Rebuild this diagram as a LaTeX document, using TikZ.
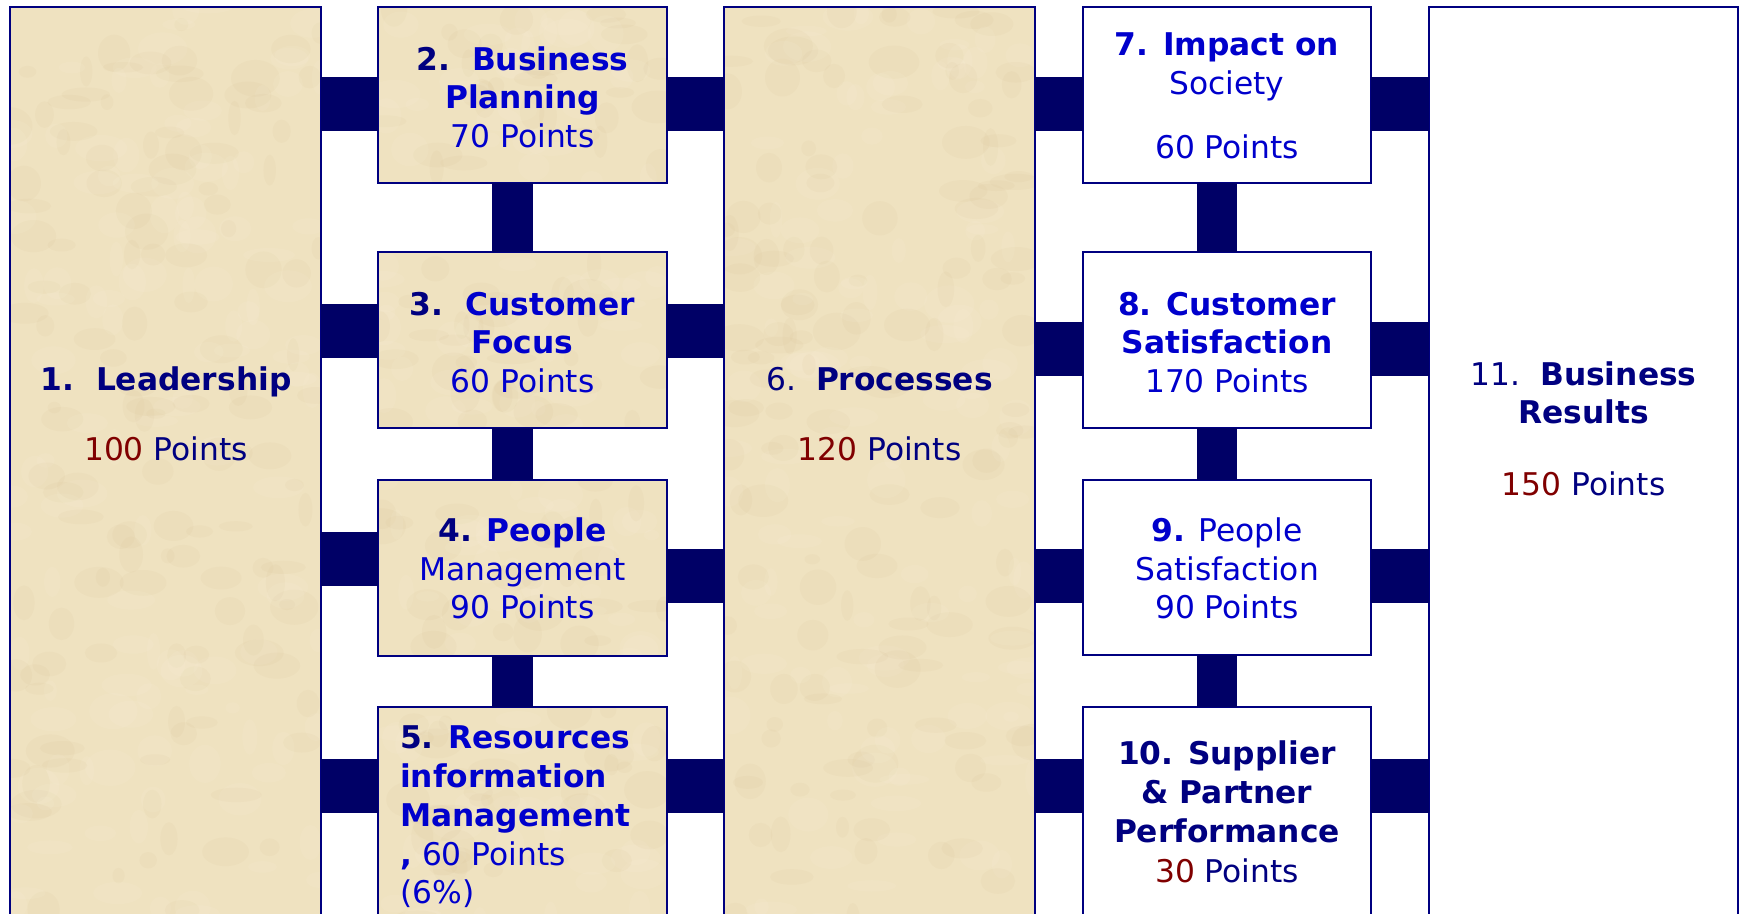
\documentclass[tikz,border=0pt]{standalone}
\usepackage{fontspec}
\setmainfont{DejaVu Sans}
\usetikzlibrary{calc}
\definecolor{barc}{RGB}{0,0,102}
\definecolor{bord}{RGB}{0,0,128}
\definecolor{tnavy}{RGB}{0,0,128}
\definecolor{tblue}{RGB}{0,0,204}
\definecolor{tred}{RGB}{128,0,0}
\definecolor{parch}{RGB}{239,226,192}
\definecolor{parchdk}{RGB}{214,190,146}
\definecolor{parchlt}{RGB}{252,245,226}
\newcommand\fsz{\fontsize{31.3}{39}\selectfont}
\newcommand\parchtex[3]{%
  \foreach \k in {1,...,#1}{%
    \pgfmathsetmacro\rx{rnd}%
    \pgfmathsetmacro\ry{rnd}%
    \pgfmathsetmacro\ra{6+20*rnd}%
    \pgfmathsetmacro\rb{5+14*rnd}%
    \pgfmathsetmacro\rc{rnd}%
    \ifdim\rc pt<0.5pt \def\bc{parchdk}\else\def\bc{parchlt}\fi
    \fill[\bc, opacity=0.10] ($(path picture bounding box.north west)+({\rx*#2 pt},{-\ry*#3 pt})$) ellipse [x radius=\ra pt, y radius=\rb pt];
  }%
}
\tikzset{
  boxbase/.style={rectangle, draw=bord, line width=2pt, inner sep=0pt, outer sep=0pt, anchor=north west},
  tanbox/.style n args={3}{boxbase, fill=parch, minimum width=#2pt, minimum height=#3pt, path picture={\parchtex{#1}{#2}{#3}}},
  whitebox/.style n args={2}{boxbase, fill=white, minimum width=#1pt, minimum height=#2pt},
  bar/.style={fill=barc},
  tx/.style={anchor=base, inner sep=0pt, font=\fsz, text=tnavy},
  txl/.style={anchor=base west, inner sep=0pt, font=\fsz, text=tblue},
}
\begin{document}
\begin{tikzpicture}[x=1pt,y=-1pt]
\pgfmathsetseed{7}
\useasboundingbox (0,0) rectangle (1739,913);
\fill[white] (0,0) rectangle (1739,913);
\clip (0,0) rectangle (1739,913);
% boxes
\node[tanbox={260}{311}{913}] (b1) at (10,7) {};
\node[tanbox={60}{289}{176}] (b2) at (378,7) {};
\node[tanbox={60}{289}{176}] (b3) at (378,252) {};
\node[tanbox={60}{289}{176}] (b4) at (378,480) {};
\node[tanbox={70}{289}{220}] (b5) at (378,707) {};
\node[tanbox={260}{311}{913}] (b6) at (724,7) {};
\node[whitebox={288}{176}] (b7) at (1083,7) {};
\node[whitebox={288}{176}] (b8) at (1083,252) {};
\node[whitebox={288}{175}] (b9) at (1083,480) {};
\node[whitebox={288}{220}] (b10) at (1083,707) {};
\node[whitebox={309}{913}] (b11) at (1429,7) {};
% horizontal bars
\fill[bar] (b1.east |- 0,77) rectangle (b2.west |- 0,131);
\fill[bar] (b2.east |- 0,77) rectangle (b6.west |- 0,131);
\fill[bar] (b6.east |- 0,77) rectangle (b7.west |- 0,131);
\fill[bar] (b7.east |- 0,77) rectangle (b11.west |- 0,131);
\fill[bar] (b1.east |- 0,304) rectangle (b3.west |- 0,358);
\fill[bar] (b3.east |- 0,304) rectangle (b6.west |- 0,358);
\fill[bar] (b6.east |- 0,322) rectangle (b8.west |- 0,376);
\fill[bar] (b8.east |- 0,322) rectangle (b11.west |- 0,376);
\fill[bar] (b1.east |- 0,532) rectangle (b4.west |- 0,586);
\fill[bar] (b4.east |- 0,549) rectangle (b6.west |- 0,603);
\fill[bar] (b6.east |- 0,549) rectangle (b9.west |- 0,603);
\fill[bar] (b9.east |- 0,549) rectangle (b11.west |- 0,603);
\fill[bar] (b1.east |- 0,759) rectangle (b5.west |- 0,813);
\fill[bar] (b5.east |- 0,759) rectangle (b6.west |- 0,813);
\fill[bar] (b6.east |- 0,759) rectangle (b10.west |- 0,813);
\fill[bar] (b10.east |- 0,759) rectangle (b11.west |- 0,813);
% vertical bars
\fill[bar] (b2.south -| 492,0) rectangle (b3.north -| 533,0);
\fill[bar] (b3.south -| 492,0) rectangle (b4.north -| 533,0);
\fill[bar] (b4.south -| 492,0) rectangle (b5.north -| 533,0);
\fill[bar] (b7.south -| 1197,0) rectangle (b8.north -| 1237,0);
\fill[bar] (b8.south -| 1197,0) rectangle (b9.north -| 1237,0);
\fill[bar] (b9.south -| 1197,0) rectangle (b10.north -| 1237,0);
% box 1
\node[tx] (t1a) at (166,390) {\bfseries 1.\ \ Leadership};
\node[tx] (t1b) at (166,460) {{\color{tred}100} Points};
% box 2
\node[tx, text=tblue] (t2a) at (522.5,70) {\bfseries{\color{tnavy}2.}\ \ Business};
\node[tx, text=tblue] (t2b) at (522.5,108.5) {\bfseries Planning};
\node[tx, text=tblue] (t2c) at (522.5,147) {70 Points};
% box 3
\node[tx, text=tblue] (t3a) at (522.5,315) {\bfseries{\color{tnavy}3.}\ \ Customer};
\node[tx, text=tblue] (t3b) at (522.5,353.5) {\bfseries Focus};
\node[tx, text=tblue] (t3c) at (522.5,392) {60 Points};
% box 4
\node[tx, text=tblue] (t4a) at (522.5,541) {\bfseries{\color{tnavy}4.} People};
\node[tx, text=tblue] (t4b) at (522.5,580) {Management};
\node[tx, text=tblue] (t4c) at (522.5,618) {90 Points};
% box 5
\node[txl] (t5a) at (400,748) {\bfseries{\color{tnavy}5.} Resources};
\node[txl] (t5b) at (400,787) {\bfseries information};
\node[txl] (t5c) at (400,826) {\bfseries Management};
\node[txl] (t5d) at (400,865) {{\bfseries,} 60 Points};
\node[txl] (t5e) at (400,903) {(6\%)};
% box 6
\node[tx] (t6a) at (879.5,390) {6.\ \ \textbf{Processes}};
\node[tx] (t6b) at (879.5,460) {{\color{tred}120} Points};
% box 7
\node[tx, text=tblue] (t7a) at (1227,55) {\bfseries 7. Impact on};
\node[tx, text=tblue] (t7b) at (1227,94) {Society};
\node[tx, text=tblue] (t7c) at (1227,158.5) {60 Points};
% box 8
\node[tx, text=tblue] (t8a) at (1227,315) {\bfseries 8. Customer};
\node[tx, text=tblue] (t8b) at (1227,353.5) {\bfseries Satisfaction};
\node[tx, text=tblue] (t8c) at (1227,392) {170 Points};
% box 9
\node[tx, text=tblue] (t9a) at (1227,541) {\textbf{9.} People};
\node[tx, text=tblue] (t9b) at (1227,580) {Satisfaction};
\node[tx, text=tblue] (t9c) at (1227,618) {90 Points};
% box 10
\node[tx] (t10a) at (1227,764) {\bfseries 10. Supplier};
\node[tx] (t10b) at (1227,803) {\bfseries\& Partner};
\node[tx] (t10c) at (1227,842) {\bfseries Performance};
\node[tx] (t10d) at (1227,882) {{\color{tred}30} Points};
% box 11
\node[tx] (t11a) at (1583.5,385) {11.\ \ \textbf{Business}};
\node[tx] (t11b) at (1583.5,423) {\bfseries Results};
\node[tx] (t11c) at (1583.5,495) {{\color{tred}150} Points};
\end{tikzpicture}
\end{document}
